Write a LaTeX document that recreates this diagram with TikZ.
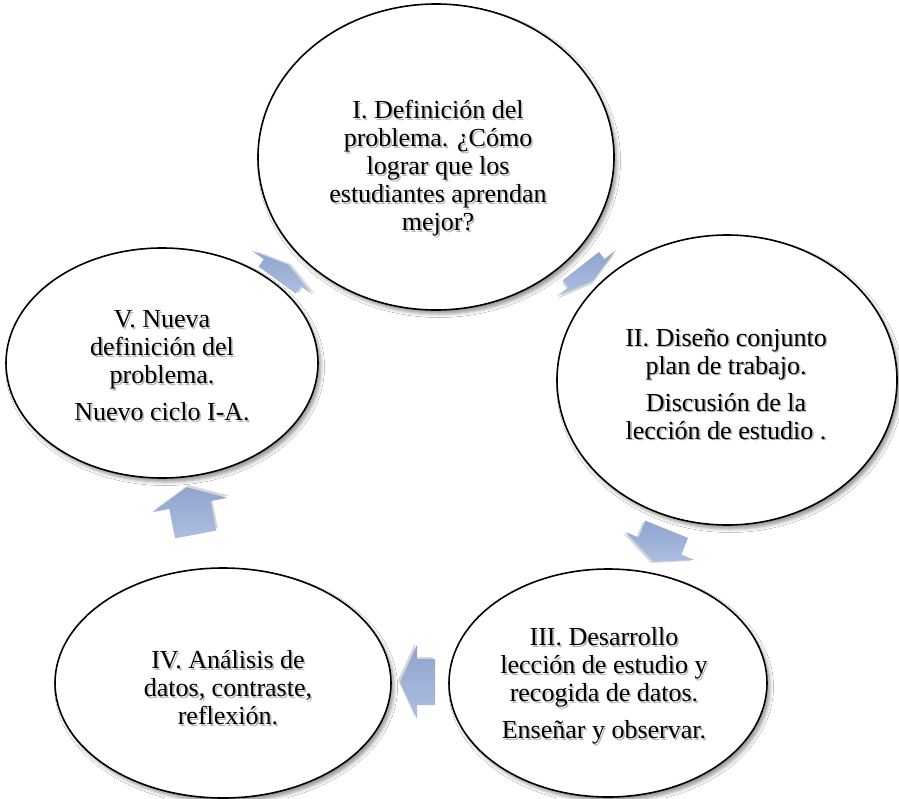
\documentclass[tikz,border=0pt]{standalone}
\usepackage{fontspec}
\setmainfont{Liberation Serif}
\usetikzlibrary{shapes.geometric, shadows.blur, calc}
\definecolor{arrowA}{HTML}{8EA4CF}
\definecolor{arrowB}{HTML}{AEBFE0}
\newcommand\stagelabel[3]{%
  \node[stagetext, text=black!28] at ($(#1)+(1.6,1.8)$) {#3};
  \node[stagetext] (#2) at (#1) {#3};}
\begin{document}
\begin{tikzpicture}[x=1pt, y=-1pt,
  stage/.style={ellipse, draw=black, line width=1.6pt, fill=white, inner sep=0pt,
    blur shadow={shadow xshift=3pt, shadow yshift=-4pt, shadow blur radius=3.5pt, shadow opacity=40}},
  stagetext/.style={align=center, font=\fontsize{26}{28}\selectfont, inner sep=0pt},
  arrowshadow/.style={fill=black, opacity=0.16},
  arrowfill/.style={top color=arrowA, bottom color=arrowB},
  cyclearrow/.pic={
    \fill[arrowshadow] (-16,-21) -- (2,-21) -- (2,-35) -- (19,2) -- (2,39) -- (2,25) -- (-16,25) -- cycle;
    \shade[arrowfill] (-18,-23) -- (0,-23) -- (0,-37) -- (17,0) -- (0,37) -- (0,23) -- (-18,23) -- cycle;
  },
  longarrow/.pic={
    \fill[arrowshadow] (-28,-19) -- (2,-19) -- (2,-36) -- (20,2) -- (2,40) -- (2,23) -- (-28,23) -- cycle;
    \shade[arrowfill] (-30,-21) -- (0,-21) -- (0,-38) -- (18,0) -- (0,38) -- (0,21) -- (-30,21) -- cycle;
  },
  thinarrow/.pic={
    \fill[arrowshadow] (-8,-21) -- (1,-21) -- (1,-35) -- (11,2) -- (1,39) -- (1,25) -- (-8,25) -- cycle;
    \shade[arrowfill] (-10,-23) -- (-1,-23) -- (-1,-37) -- (9,0) -- (-1,37) -- (-1,23) -- (-10,23) -- cycle;
  }]
\useasboundingbox (0,0) rectangle (899,798);
\fill[white] (0,0) rectangle (899,798);
% cycle arrows (partly hidden behind the stages)
\pic[rotate=-52] (a12) at (587,274) {thinarrow};
\pic[rotate=-112] (a23) at (660,546) {cyclearrow};
\pic[rotate=180] (a34) at (417,682) {cyclearrow};
\pic[rotate=100.8] (a45) at (190,505) {longarrow};
\pic[rotate=54] (a51) at (283,272) {thinarrow};
% stages
\node[stage, minimum width=356pt, minimum height=306pt] (s1) at (436,157) {};
\node[stage, minimum width=340pt, minimum height=290pt] (s2) at (727,380) {};
\node[stage, minimum width=318pt, minimum height=228pt] (s3) at (608,683) {};
\node[stage, minimum width=336pt, minimum height=230pt] (s4) at (223,683) {};
\node[stage, minimum width=312pt, minimum height=230pt] (s5) at (162,363) {};
% texts
\coordinate (p1) at (438,168);
\coordinate (p2) at (726,384);
\coordinate (p3) at (604,686);
\coordinate (p4) at (228,688);
\coordinate (p5) at (162,366);
\stagelabel{p1}{t1}{I. Definición del\\ problema. ¿Cómo\\ lograr que los\\ estudiantes aprendan\\ mejor?}
\stagelabel{p2}{t2}{II. Diseño conjunto\\ plan de trabajo.\\[9pt] Discusión de la\\ lección de estudio .}
\stagelabel{p3}{t3}{III. Desarrollo\\ lección de estudio y\\ recogida de datos.\\[9pt] Enseñar y observar.}
\stagelabel{p4}{t4}{IV. Análisis de\\ datos, contraste,\\ reflexión.}
\stagelabel{p5}{t5}{V. Nueva\\ definición del\\ problema.\\[9pt] Nuevo ciclo I-A.}
\end{tikzpicture}
\end{document}
